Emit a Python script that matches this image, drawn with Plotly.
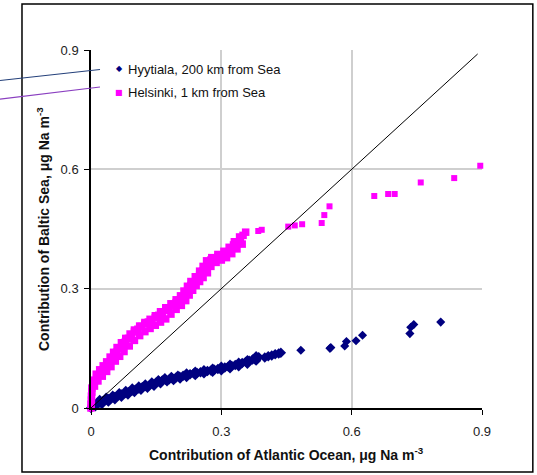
import plotly.graph_objects as go

# ---------------- data ----------------
# Hyytiala: centre of the band, then lower and upper edges of the dense band, then outliers
hyytiala_x = [0.000, 0.003, 0.008, 0.014, 0.020, 0.027, 0.034, 0.041, 0.048, 0.055,
              0.062, 0.070, 0.078, 0.086, 0.094, 0.102, 0.110, 0.118, 0.126, 0.134,
              0.142, 0.150, 0.157, 0.164, 0.172, 0.180, 0.188, 0.196, 0.204, 0.212,
              0.220, 0.228, 0.236, 0.244, 0.252, 0.260, 0.268, 0.276, 0.284, 0.292,
              0.300, 0.308, 0.316, 0.324, 0.332, 0.340, 0.348, 0.356, 0.364, 0.372,
              0.380, 0.386, 0.400, 0.408, 0.416, 0.424, 0.432, 0.437,
              0.010, 0.025, 0.040, 0.055, 0.070, 0.085, 0.100, 0.115, 0.130, 0.145,
              0.160, 0.175, 0.190, 0.205, 0.220, 0.240, 0.260, 0.280, 0.300, 0.320,
              0.340, 0.360, 0.380,
              0.005, 0.020, 0.035, 0.050, 0.065, 0.080, 0.095, 0.110, 0.125, 0.140,
              0.155, 0.170, 0.185, 0.200, 0.220, 0.240, 0.260, 0.280, 0.300, 0.320,
              0.340, 0.360, 0.380,
              0.483, 0.550, 0.552, 0.584, 0.588, 0.610, 0.625, 0.734, 0.736, 0.743, 0.805]
hyytiala_y = [0.000, 0.004, 0.008, 0.011, 0.014, 0.017, 0.020, 0.023, 0.026, 0.028,
              0.031, 0.034, 0.037, 0.040, 0.043, 0.046, 0.049, 0.052, 0.055, 0.057,
              0.060, 0.064, 0.067, 0.069, 0.071, 0.072, 0.074, 0.077, 0.079, 0.081,
              0.083, 0.085, 0.087, 0.088, 0.090, 0.091, 0.093, 0.094, 0.096, 0.098,
              0.100, 0.102, 0.104, 0.106, 0.108, 0.110, 0.113, 0.116, 0.119, 0.122,
              0.125, 0.128, 0.127, 0.130, 0.132, 0.135, 0.137, 0.139,
              0.004, 0.010, 0.016, 0.022, 0.028, 0.034, 0.040, 0.046, 0.051, 0.056,
              0.062, 0.067, 0.070, 0.074, 0.078, 0.083, 0.087, 0.091, 0.095, 0.100,
              0.105, 0.111, 0.119,
              0.012, 0.020, 0.026, 0.031, 0.037, 0.043, 0.049, 0.054, 0.059, 0.064,
              0.070, 0.075, 0.078, 0.081, 0.087, 0.091, 0.095, 0.099, 0.104, 0.109,
              0.114, 0.120, 0.130,
              0.145, 0.150, 0.152, 0.156, 0.167, 0.169, 0.183, 0.187, 0.203, 0.210, 0.216]
hyytiala_sparse_count = 11

# Helsinki: centre of the band, upper edge, lower edge, then the sparse points
helsinki_x = [0.000, 0.000, 0.001, 0.001, 0.002, 0.002, 0.004, 0.008, 0.013, 0.018,
              0.024, 0.030, 0.036, 0.042, 0.048, 0.054, 0.059, 0.065, 0.072, 0.079,
              0.086, 0.093, 0.100, 0.108, 0.116, 0.124, 0.132, 0.140, 0.148, 0.156,
              0.164, 0.172, 0.180, 0.188, 0.196, 0.204, 0.212, 0.218, 0.224, 0.230,
              0.236, 0.243, 0.250, 0.257, 0.263, 0.269, 0.276, 0.284, 0.292, 0.300,
              0.308, 0.316, 0.322, 0.328, 0.336, 0.344, 0.350, 0.356,
              0.004, 0.012, 0.020, 0.028, 0.036, 0.044, 0.052, 0.060, 0.070, 0.080,
              0.090, 0.100, 0.112, 0.124, 0.136, 0.148, 0.160, 0.172, 0.184, 0.196,
              0.206, 0.214, 0.222, 0.230, 0.240, 0.250, 0.258, 0.266, 0.278, 0.292,
              0.306, 0.318, 0.330, 0.342,
              0.008, 0.016, 0.026, 0.036, 0.046, 0.056, 0.066, 0.076, 0.088, 0.100,
              0.112, 0.124, 0.136, 0.148, 0.160, 0.172, 0.184, 0.196, 0.208, 0.218,
              0.226, 0.234, 0.242, 0.250, 0.258, 0.268, 0.276, 0.288, 0.300, 0.312,
              0.324, 0.336, 0.348,
              0.385, 0.393, 0.454, 0.469, 0.486, 0.531, 0.537, 0.549, 0.652, 0.684,
              0.699, 0.759, 0.836, 0.896]
helsinki_y = [0.000, 0.010, 0.020, 0.030, 0.040, 0.050, 0.060, 0.068, 0.075, 0.082,
              0.090, 0.097, 0.104, 0.112, 0.121, 0.131, 0.140, 0.150, 0.158, 0.166,
              0.175, 0.183, 0.191, 0.198, 0.205, 0.211, 0.216, 0.221, 0.227, 0.233,
              0.239, 0.245, 0.252, 0.259, 0.265, 0.271, 0.279, 0.288, 0.298, 0.308,
              0.316, 0.325, 0.334, 0.344, 0.354, 0.365, 0.372, 0.376, 0.380, 0.383,
              0.388, 0.393, 0.402, 0.410, 0.416, 0.424, 0.434, 0.442,
              0.070, 0.085, 0.096, 0.106, 0.116, 0.128, 0.140, 0.152, 0.164, 0.175,
              0.186, 0.196, 0.206, 0.215, 0.223, 0.232, 0.242, 0.252, 0.262, 0.272,
              0.282, 0.294, 0.306, 0.318, 0.330, 0.344, 0.356, 0.370, 0.378, 0.386,
              0.394, 0.404, 0.418, 0.430,
              0.055, 0.068, 0.080, 0.092, 0.104, 0.118, 0.130, 0.142, 0.156, 0.170,
              0.182, 0.192, 0.200, 0.208, 0.216, 0.224, 0.236, 0.248, 0.258, 0.270,
              0.284, 0.296, 0.308, 0.318, 0.328, 0.340, 0.356, 0.366, 0.372, 0.378,
              0.388, 0.400, 0.412,
              0.445, 0.448, 0.456, 0.459, 0.462, 0.465, 0.485, 0.507, 0.533, 0.538,
              0.538, 0.567, 0.578, 0.609]
helsinki_sparse_count = 14

one_to_one = [0.0, 0.89]
tick_vals = [0, 0.3, 0.6, 0.9]
tick_text = ["0", "0.3", "0.6", "0.9"]
series_names = ["Hyytiala, 200 km from Sea", "Helsinki, 1 km from Sea"]

FONT = "Arial, Liberation Sans, sans-serif"
NAVY = "#000080"
MAGENTA = "#FF00FF"

# marker sizes: slightly larger where points overlap into a dense band
hy_sizes = [8] * (len(hyytiala_x) - hyytiala_sparse_count) + [7] * hyytiala_sparse_count
he_sizes = [7.5] * (len(helsinki_x) - helsinki_sparse_count) + [6] * helsinki_sparse_count

fig = go.Figure()
fig.add_trace(go.Scatter(x=hyytiala_x, y=hyytiala_y, mode="markers",
                         name=series_names[0], cliponaxis=False,
                         marker=dict(symbol="diamond", size=hy_sizes, color=NAVY,
                                     opacity=1, line=dict(width=0))))
fig.add_trace(go.Scatter(x=helsinki_x, y=helsinki_y, mode="markers",
                         name=series_names[1], cliponaxis=False,
                         marker=dict(symbol="square", size=he_sizes, color=MAGENTA,
                                     opacity=1, line=dict(width=0))))
fig.add_trace(go.Scatter(x=one_to_one, y=one_to_one, mode="lines",
                         line=dict(color="black", width=1), showlegend=False,
                         hoverinfo="skip"))

axis_common = dict(range=[0, 0.9], tickvals=tick_vals, ticktext=tick_text,
                   showgrid=True, gridcolor="#CFCFCF", gridwidth=1.5,
                   zeroline=False, showline=True, linecolor="black", linewidth=1.5,
                   ticks="outside", ticklen=5, tickcolor="black", tickwidth=1,
                   tickfont=dict(family=FONT, size=13, color="#222222"))

fig.update_layout(
    width=537, height=475,
    margin=dict(l=91, r=55, t=50, b=67),
    paper_bgcolor="white", plot_bgcolor="white",
    showlegend=False,
    font=dict(family=FONT),
    xaxis=dict(**axis_common, ticklabelstandoff=6),
    yaxis=dict(**axis_common, ticklabelstandoff=3),
)

# frame around the whole chart
fig.add_shape(type="rect", xref="paper", yref="paper",
              x0=-0.1765, x1=1.13, y0=-0.179, y1=1.1285,
              line=dict(color="black", width=1.5), fillcolor="rgba(0,0,0,0)")
# pointer lines crossing the left edge
fig.add_shape(type="line", xref="paper", yref="paper",
              x0=-0.2327, y0=0.9148, x1=0.023, y1=0.9455,
              line=dict(color="#24407A", width=1.2))
fig.add_shape(type="line", xref="paper", yref="paper",
              x0=-0.2327, y0=0.863, x1=0.023, y1=0.8966,
              line=dict(color="#8A3FC0", width=1.2))


def px_x(px):
    return (px - 91) / 391


def px_y(py):
    return (408 - py) / 358


# manual legend
fig.add_annotation(xref="paper", yref="paper", x=px_x(119), y=px_y(68.5),
                   text="◆", showarrow=False, xanchor="center", yanchor="middle",
                   font=dict(family="DejaVu Sans", size=8, color=NAVY))
fig.add_annotation(xref="paper", yref="paper", x=px_x(119), y=px_y(92),
                   text="■", showarrow=False, xanchor="center", yanchor="middle",
                   font=dict(family="DejaVu Sans", size=8, color=MAGENTA))
fig.add_annotation(xref="paper", yref="paper", x=px_x(126), y=px_y(69),
                   text=series_names[0], showarrow=False, xanchor="left",
                   yanchor="middle", font=dict(family=FONT, size=13, color="#111111"))
fig.add_annotation(xref="paper", yref="paper", x=px_x(126), y=px_y(93),
                   text=series_names[1], showarrow=False, xanchor="left",
                   yanchor="middle", font=dict(family=FONT, size=13, color="#111111"))

# axis titles
fig.add_annotation(xref="paper", yref="paper", x=px_x(286.5), y=px_y(454),
                   text="<b>Contribution of Atlantic Ocean, μg Na m<sup>-3</sup></b>",
                   showarrow=False, xanchor="center", yanchor="middle",
                   font=dict(family=FONT, size=14, color="#111111"))
fig.add_annotation(xref="paper", yref="paper", x=px_x(43), y=px_y(229),
                   text="<b>Contribution of Baltic Sea, μg Na m<sup>-3</sup></b>",
                   showarrow=False, xanchor="center", yanchor="middle", textangle=-90,
                   font=dict(family=FONT, size=14, color="#111111"))

fig.write_html("out.html", config={"displayModeBar": False},
               post_script="document.body.style.margin='0';")
